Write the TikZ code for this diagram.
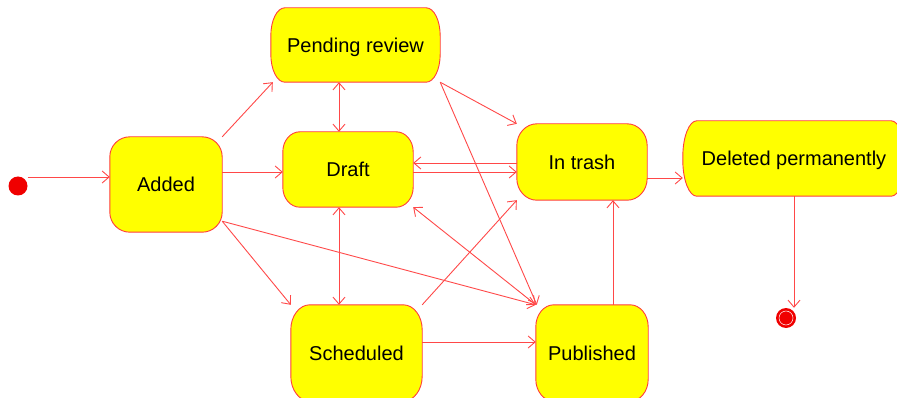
\documentclass[tikz,border=0pt]{standalone}
\usepackage{fontspec}
\setmainfont{Liberation Sans}
\usetikzlibrary{arrows.meta,calc}
\pgfdeclarelayer{bg}
\pgfsetlayers{bg,main}
\definecolor{edgered}{RGB}{255,72,72}
\definecolor{boxline}{RGB}{255,60,60}
\definecolor{boxfill}{RGB}{255,255,0}
\definecolor{dotred}{RGB}{240,0,0}

\tikzset{
  state/.style={rectangle, draw=none, inner sep=0pt, text height=14.5pt, text depth=0pt,
    font=\fontsize{20}{24}\selectfont},
  tip/.tip={Straight Barb[length=7pt,width=12pt]},
  arr/.style={draw=edgered, line width=0.9pt, -tip},
  biarr/.style={arr, tip-tip},
  statebody/.style={draw=boxline, fill=boxfill, line width=0.9pt},
}
% rounded box with elliptical corners behind a state node
\newcommand\statebox[3]{%
  \path[statebody] let \p1=(#1.south west), \p2=(#1.north east) in
    (\x1+#2,\y1) -- (\x2-#2,\y1) arc[start angle=-90,end angle=0,x radius=#2,y radius=#3]
    -- (\x2,\y2-#3) arc[start angle=0,end angle=90,x radius=#2,y radius=#3]
    -- (\x1+#2,\y2) arc[start angle=90,end angle=180,x radius=#2,y radius=#3]
    -- (\x1,\y1+#3) arc[start angle=180,end angle=270,x radius=#2,y radius=#3] -- cycle;}

\begin{document}
\begin{tikzpicture}[x=1pt,y=-1pt]
\useasboundingbox (0,0) rectangle (897,398);
\begin{scope}
\clip (0,0) rectangle (897,398);

% states
\node[state, minimum width=112pt, minimum height=95pt] (Added) at (166,184.5) {Added};
\node[state, minimum width=169pt, minimum height=74pt] (Pending) at (355.5,45) {Pending review};
\node[state, minimum width=130pt, minimum height=75pt] (Draft) at (348,169.5) {Draft};
\node[state, minimum width=130pt, minimum height=76pt] (Trash) at (582,162) {In trash};
\node[state, minimum width=222pt, minimum height=75pt] (Deleted) at (794,158.5) {Deleted permanently};
\node[state, minimum width=131pt, minimum height=96pt] (Scheduled) at (356.5,353) {Scheduled};
\node[state, minimum width=112pt, minimum height=96pt] (Published) at (592,353) {Published};

% initial and final pseudo-states
\node[circle, fill=dotred, inner sep=0pt, minimum size=19pt] (start) at (18,186) {};
\node[circle, fill=dotred, inner sep=0pt, minimum size=20pt] (end) at (786,318) {};
\draw[white, line width=0.5pt] (end.center) circle[radius=7pt];

\begin{pgfonlayer}{bg}
  \clip (0,0) rectangle (897,398);
  \statebox{Added}{20pt}{20pt}
  \statebox{Pending}{14pt}{28pt}
  \statebox{Draft}{17pt}{20pt}
  \statebox{Trash}{20pt}{22pt}
  \statebox{Deleted}{14pt}{36pt}
  \statebox{Scheduled}{19pt}{25pt}
  \statebox{Published}{18pt}{22pt}
\end{pgfonlayer}

% transitions
\draw[arr] ([yshift=9pt]start.east) -- ([yshift=9pt]start.east -| Added.west);
\draw[arr] (Added.north east) -- ([xshift=2pt]Pending.south west);
\draw[arr] ([yshift=12.5pt]Added.east) -- ([yshift=12.5pt]Added.east -| Draft.west);
\draw[arr] ([yshift=11pt]Added.south east) -- (Scheduled.north west);
\draw[arr] ([yshift=11pt]Added.south east) -- (Published.north west);
\draw[biarr] ([xshift=-9pt]Draft.north) -- ([xshift=-9pt]Draft.north |- Pending.south);
\draw[biarr] ([xshift=-9pt]Draft.south) -- ([xshift=-9pt]Draft.south |- Scheduled.north);
\draw[arr] ([yshift=-2.5pt]Draft.east) -- ([yshift=-2.5pt]Draft.east -| Trash.west);
\draw[arr] ([yshift=-1pt]Trash.west) -- ([yshift=-1pt]Trash.west -| Draft.east);
\draw[arr] (Pending.south east) -- (Trash.north west);
\draw[arr] (Pending.south east) -- ([xshift=1pt]Published.north west);
\draw[arr] (Scheduled.north east) -- (Trash.south west);
\draw[biarr] (Draft.south east) -- (Published.north west);
\draw[arr] ([yshift=11pt]Scheduled.east) -- ([yshift=11pt]Scheduled.east -| Published.west);
\draw[arr] ([xshift=21pt]Published.north) -- ([xshift=21pt]Published.north |- Trash.south);
\draw[arr] ([yshift=-16pt]Trash.east) -- ([yshift=-16pt]Trash.east -| Deleted.west);
\draw[arr] (Deleted.south) -- (Deleted.south |- end.north);
\end{scope}
\end{tikzpicture}
\end{document}
